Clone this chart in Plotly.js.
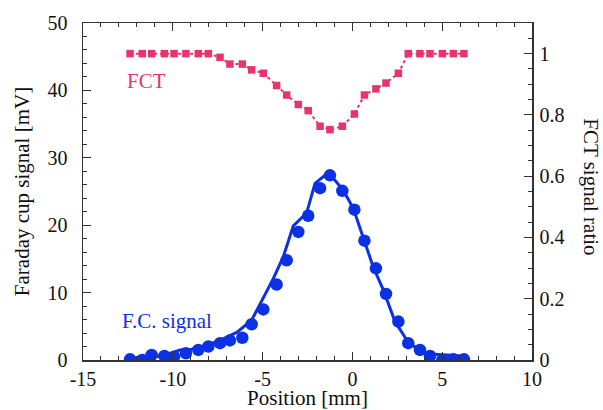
<!DOCTYPE html>
<html><head><meta charset="utf-8">
<script src="https://cdn.plot.ly/plotly-3.0.1.min.js"></script>
<style>html,body{margin:0;padding:0;background:#fff}#plot{width:603px;height:410px}</style>
</head><body><div id="plot"></div>
<script>
// Measurement positions [mm]
const position = [-12.38,-11.70,-11.18,-10.47,-9.93,-9.27,-8.58,-8.02,-7.37,-6.82,-6.13,-5.61,-4.96,-4.22,-3.66,-3.01,-2.46,-1.80,-1.25,-0.56,0.11,0.67,1.31,1.87,2.56,3.11,3.76,4.32,5.01,5.62,6.21];
// Faraday cup signal [mV] (markers)
const fcSignal = [0.1,0.0,0.74,0.6,0.5,1.0,1.5,2.0,2.5,2.9,3.3,5.3,7.5,11.2,14.8,19.0,21.4,25.5,27.4,25.1,22.3,17.7,13.6,9.8,5.7,2.5,1.5,0.6,0.0,0.1,0.1];
// Faraday cup signal curve (line)
const fcLineX = [-12.38,-11.70,-10.53,-9.6,-8.95,-8.11,-7.37,-6.44,-5.61,-4.40,-3.85,-3.29,-2.55,-2.08,-1.34,-0.51,0.05,0.61,1.16,1.72,2.37,3.02,3.58,4.32,5.25,6.17];
const fcLineY = [0.25,0.4,0.6,1.5,1.6,2.2,2.9,4.1,5.9,12.1,15.3,19.9,21.8,26.2,27.8,25.2,22.5,18.1,13.8,10.4,5.7,3.0,1.7,0.9,0.74,0.6];
// FCT signal ratio
const fctRatio = [1.0,1.0,1.0,1.0,1.0,1.0,1.0,1.0,0.988,0.966,0.966,0.947,0.936,0.896,0.865,0.834,0.814,0.763,0.752,0.763,0.803,0.865,0.885,0.904,0.936,1.0,1.0,1.0,1.0,1.0,1.0];

const xTicks = [-15,-10,-5,0,5,10];
const yTicks = [0,10,20,30,40,50];
const y2Ticks = [0,0.2,0.4,0.6,0.8,1];

const BLUE = '#0c30e4';
const PINK = '#e8346c';
const FONT = 'Liberation Serif';
const FS = 20;
const TS = 21;

const axisCommon = {
  showgrid:false, zeroline:false, showline:true, linecolor:'#333', linewidth:1.5,
  ticks:'inside', ticklen:8, tickwidth:1, tickcolor:'#333',
  tickfont:{family:FONT, size:FS, color:'#111'}
};

const traces = [
  {x: fcLineX, y: fcLineY, mode:'lines', line:{color:BLUE, width:3}, yaxis:'y', hoverinfo:'skip'},
  {x: position, y: fcSignal, mode:'markers', marker:{color:BLUE, size:12.5, symbol:'circle'}, yaxis:'y'},
  {x: position, y: fctRatio, mode:'lines+markers', line:{color:PINK, width:2, dash:'dot'}, marker:{color:PINK, size:7.5, symbol:'square'}, yaxis:'y2'}
];

const layout = {
  width:603, height:410,
  margin:{l:83, r:71, t:23, b:50},
  paper_bgcolor:'#fff', plot_bgcolor:'#fff',
  showlegend:false,
  font:{family:FONT, color:'#111', size:FS},
  xaxis: Object.assign({}, axisCommon, {
    range:[-15,10], tickmode:'array', tickvals:xTicks, ticktext:xTicks.map(String),
    mirror:'ticks',
    minor:{dtick:1, ticks:'inside', ticklen:4, tickcolor:'#333'},
    title:{text:'Position [mm]', font:{family:FONT, size:TS, color:'#111'}, standoff:3}
  }),
  yaxis: Object.assign({}, axisCommon, {
    range:[0,50], tickmode:'array', tickvals:yTicks, ticktext:yTicks.map(String),
    ticklabelstandoff:10,
    minor:{dtick:2, ticks:'inside', ticklen:4, tickcolor:'#333'},
    title:{text:'Faraday cup signal [mV]', font:{family:FONT, size:TS, color:'#111'}, standoff:12}
  }),
  yaxis2: Object.assign({}, axisCommon, {
    range:[0,1.1], overlaying:'y', side:'right', tickmode:'array', tickvals:y2Ticks, ticktext:y2Ticks.map(String),
    ticklabelstandoff:2,
    minor:{dtick:0.05, ticks:'inside', ticklen:4, tickcolor:'#333'}
  }),
  annotations:[
    {text:'FCT signal ratio', xref:'paper', yref:'paper', x:1.131, y:0.513, textangle:90, showarrow:false,
     font:{family:FONT, size:TS, color:'#111'}, xanchor:'center', yanchor:'middle'},
    {text:'FCT', xref:'x', yref:'y', x:-12.65, y:41.4, showarrow:false, xanchor:'left',
     font:{family:FONT, size:TS, color:PINK}},
    {text:'F.C. signal', xref:'x', yref:'y', x:-12.95, y:5.8, showarrow:false, xanchor:'left',
     font:{family:FONT, size:TS, color:BLUE}}
  ]
};

Plotly.newPlot('plot', traces, layout, {displayModeBar:false, staticPlot:true});
</script>
</body></html>
